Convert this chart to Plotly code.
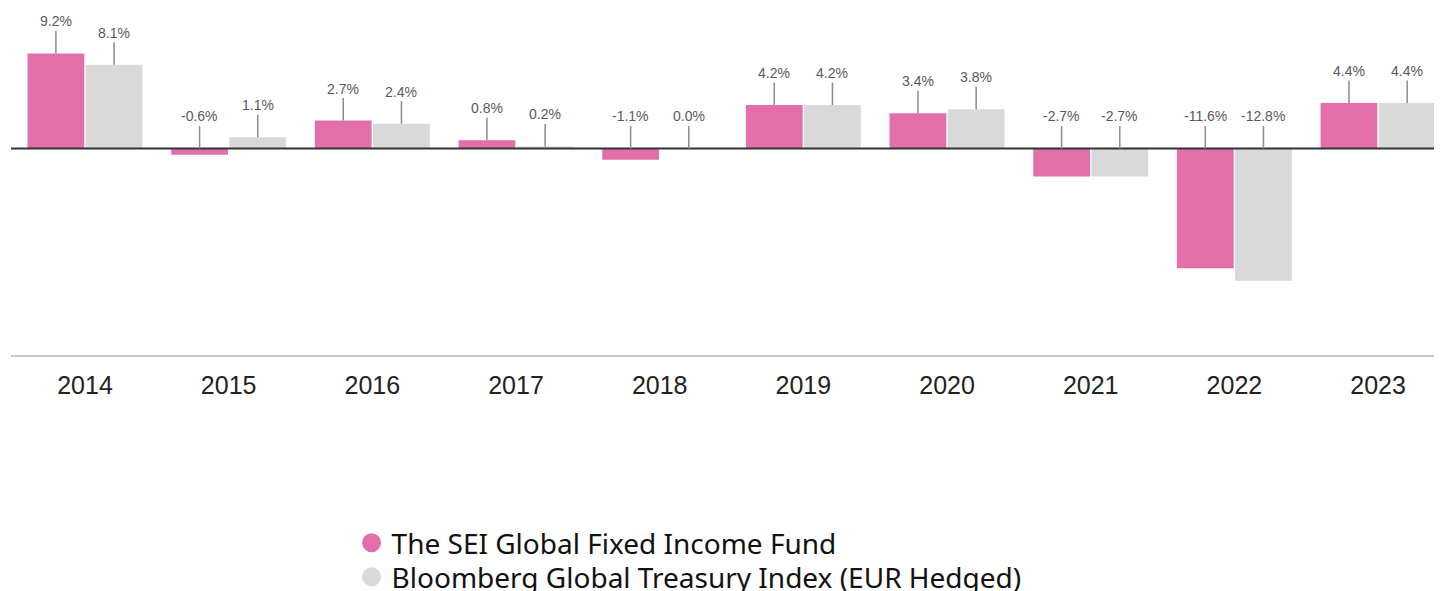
import plotly.graph_objects as go

years = ["2014", "2015", "2016", "2017", "2018", "2019", "2020", "2021", "2022", "2023"]
fund = [9.2, -0.6, 2.7, 0.8, -1.1, 4.2, 3.4, -2.7, -11.6, 4.4]
index = [8.1, 1.1, 2.4, 0.2, 0.0, 4.2, 3.8, -2.7, -12.8, 4.4]
fund_name = "The SEI Global Fixed Income Fund"
index_name = "Bloomberg Global Treasury Index (EUR Hedged)"

PINK = "#E26FAA"
GREY = "#D9D9D9"
W = 0.395
OFF = [-0.40, 0.005]

fig = go.Figure()
for vals, col, off in [(fund, PINK, OFF[0]), (index, GREY, OFF[1])]:
    fig.add_trace(go.Bar(x=list(range(len(years))), y=vals, marker_color=col,
                         marker_line_width=0, width=W, offset=off,
                         showlegend=False, hoverinfo="skip"))

for name, col, lg in [(fund_name, PINK, "legend"), (index_name, GREY, "legend2")]:
    fig.add_trace(go.Scatter(x=[None], y=[None], mode="markers", name=name, legend=lg,
                             marker=dict(color=col, size=16, symbol="circle",
                                         line=dict(color=col, width=3))))

ann = []
for vals, off in [(fund, OFF[0]), (index, OFF[1])]:
    for i, v in enumerate(vals):
        ann.append(dict(x=i + off + W / 2, y=max(v, 0), xref="x", yref="y",
                        text=f"{v:.1f}%", showarrow=True, arrowhead=0,
                        arrowwidth=1.5, arrowcolor="#8c8c8c", ax=0, ay=-32,
                        font=dict(family="Liberation Sans, Arial", size=14, color="#595959")))

n = len(years)
legfont = dict(family="Noto Sans", size=28, color="#111111")
fig.update_layout(
    width=1434, height=583,
    margin=dict(l=3, r=0, t=0, b=236, autoexpand=False),
    paper_bgcolor="white", plot_bgcolor="white",
    barmode="overlay",
    annotations=ann,
    shapes=[dict(type="line", xref="paper", yref="y", x0=0, x1=1, y0=0, y1=0,
                 line=dict(color="#333333", width=2), layer="above")],
    xaxis=dict(range=[-0.515, 9.445], tickmode="array", tickvals=list(range(n)),
               ticktext=years, showgrid=False, zeroline=False,
               showline=True, linecolor="#c6c6c6", linewidth=2,
               ticks="outside", ticklen=7, tickcolor="rgba(0,0,0,0)",
               tickfont=dict(family="Liberation Sans, Arial", size=25, color="#222222")),
    yaxis=dict(range=[-19.99, 13.6], showgrid=False, zeroline=False,
               showticklabels=False, ticks=""),
    legend=dict(x=0.238, xanchor="left", y=-0.5418, yanchor="middle",
                font=legfont, bgcolor="rgba(0,0,0,0)", itemsizing="trace"),
    legend2=dict(x=0.238, xanchor="left", y=-0.6398, yanchor="middle",
                 font=legfont, bgcolor="rgba(0,0,0,0)", itemsizing="trace"),
)

fig.write_html("out.html")
